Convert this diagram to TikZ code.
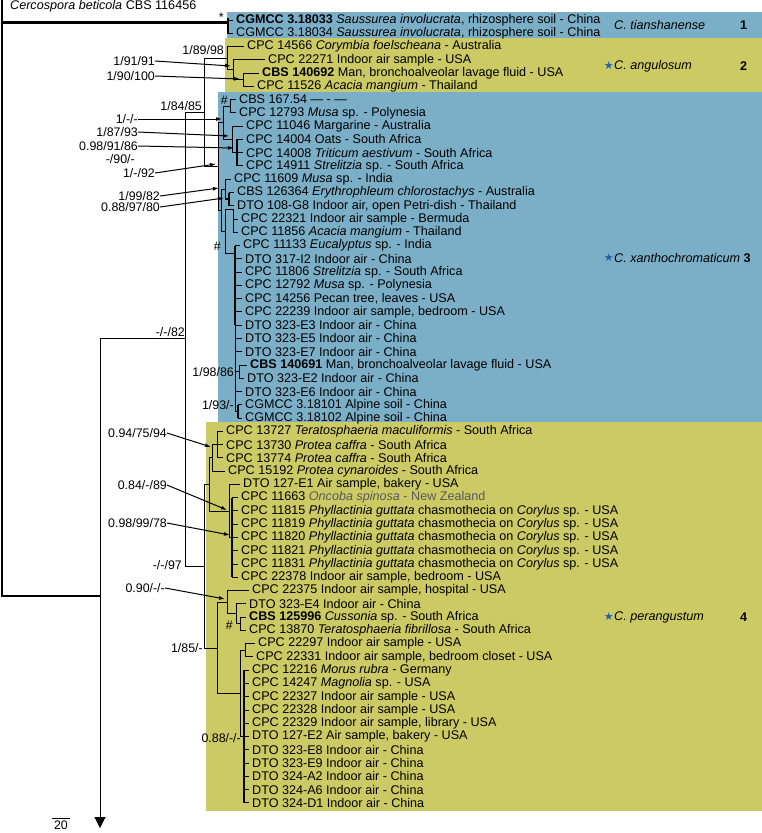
\documentclass[tikz,border=0pt]{standalone}
\usepackage{fontspec}
\setmainfont{Liberation Sans}
\newfontfamily\symfont{DejaVu Sans}
\usetikzlibrary{arrows.meta}
\definecolor{cladeblue}{HTML}{7BAFC7}
\definecolor{cladeyellow}{HTML}{CCCA64}
\definecolor{starblue}{HTML}{2A5CAA}
\newcommand{\phyl}{\textit{Phyllactinia guttata} chasmothecia on \textit{Corylus} sp. - USA}

\begin{document}
\begin{tikzpicture}[x=1pt, y=-1pt,
  taxon/.style={anchor=west, inner xsep=3pt, inner ysep=0pt, font=\fontsize{12.6}{14}\selectfont},
  support/.style={anchor=east, inner sep=0pt, font=\fontsize{12.4}{14}\selectfont},
  cladename/.style={anchor=west, inner sep=0pt, font=\fontsize{12.6}{14}\selectfont\itshape},
  cladenum/.style={anchor=west, inner sep=0pt, font=\fontsize{12.6}{14}\selectfont\bfseries},
  branch/.style={line width=1pt},
  pointer/.style={line width=1pt, -{Latex[length=6pt,width=4pt]}}]
  \useasboundingbox (0,0) rectangle (762,833);

  % ── Clade boxes ──
  \fill[cladeblue] (227,12) rectangle (762,38);
  \fill[cladeyellow] (225,38) rectangle (762,92);
  \fill[cladeblue] (218,92) rectangle (762,422);
  \fill[cladeyellow] (206,422) rectangle (762,811);

  % ── Taxa ──
  \node[taxon, inner xsep=0pt] (outg) at (10,6) {\textit{Cercospora beticola} CBS 116456};
  \foreach \r/\xx/\txt in {
    0/236/{\textbf{CGMCC 3.18033} \textit{Saussurea involucrata}, rhizosphere soil - China},
    1/236/{CGMCC 3.18034 \textit{Saussurea involucrata}, rhizosphere soil - China},
    2/247/{CPC 14566 \textit{Corymbia foelscheana} - Australia},
    3/268/{CPC 22271 Indoor air sample - USA},
    4/262/{\textbf{CBS 140692} Man, bronchoalveolar lavage fluid - USA},
    5/257/{CPC 11526 \textit{Acacia mangium} - Thailand},
    6/239/{CBS 167.54 — - —},
    7/239/{CPC 12793 \textit{Musa} sp. - Polynesia},
    8/246/{CPC 11046 Margarine - Australia},
    9/246/{CPC 14004 Oats - South Africa},
    10/246/{CPC 14008 \textit{Triticum aestivum} - South Africa},
    11/246/{CPC 14911 \textit{Strelitzia} sp. - South Africa},
    12/234/{CPC 11609 \textit{Musa} sp. - India},
    13/237/{CBS 126364 \textit{Erythrophleum chlorostachys} - Australia},
    14/237/{DTO 108-G8 Indoor air, open Petri-dish - Thailand},
    15/241/{CPC 22321 Indoor air sample - Bermuda},
    16/241/{CPC 11856 \textit{Acacia mangium} - Thailand},
    17/243/{CPC 11133 \textit{Eucalyptus} sp. - India},
    18/245/{DTO 317-I2 Indoor air - China},
    19/245/{CPC 11806 \textit{Strelitzia} sp. - South Africa},
    20/245/{CPC 12792 \textit{Musa} sp. - Polynesia},
    21/245/{CPC 14256 Pecan tree, leaves - USA},
    22/245/{CPC 22239 Indoor air sample, bedroom - USA},
    23/245/{DTO 323-E3 Indoor air - China},
    24/245/{DTO 323-E5 Indoor air - China},
    25/245/{DTO 323-E7 Indoor air - China},
    26/250/{\textbf{CBS 140691} Man, bronchoalveolar lavage fluid - USA},
    27/247/{DTO 323-E2 Indoor air - China},
    28/245/{DTO 323-E6 Indoor air - China},
    29/245/{CGMCC 3.18101 Alpine soil - China},
    30/245/{CGMCC 3.18102 Alpine soil - China},
    31/226/{CPC 13727 \textit{Teratosphaeria maculiformis} - South Africa},
    32/226/{CPC 13730 \textit{Protea caffra} - South Africa},
    33/226/{CPC 13774 \textit{Protea caffra} - South Africa},
    34/228/{CPC 15192 \textit{Protea cynaroides} - South Africa},
    35/243/{DTO 127-E1 Air sample, bakery - USA},
    36/241/{CPC 11663 {\color{black!65}\textit{Oncoba spinosa} - New Zealand}},
    37/241/{CPC 11815 \phyl},
    38/241/{CPC 11819 \phyl},
    39/241/{CPC 11820 \phyl},
    40/241/{CPC 11821 \phyl},
    41/241/{CPC 11831 \phyl},
    42/241/{CPC 22378 Indoor air sample, bedroom - USA},
    43/252/{CPC 22375 Indoor air sample, hospital - USA},
    44/249/{DTO 323-E4 Indoor air - China},
    45/249/{\textbf{CBS 125996} \textit{Cussonia} sp. - South Africa},
    46/249/{CPC 13870 \textit{Teratosphaeria fibrillosa} - South Africa},
    47/258/{CPC 22297 Indoor air sample - USA},
    48/256/{CPC 22331 Indoor air sample, bedroom closet - USA},
    49/252/{CPC 12216 \textit{Morus rubra} - Germany},
    50/252/{CPC 14247 \textit{Magnolia} sp. - USA},
    51/252/{CPC 22327 Indoor air sample - USA},
    52/252/{CPC 22328 Indoor air sample - USA},
    53/252/{CPC 22329 Indoor air sample, library - USA},
    54/252/{DTO 127-E2 Air sample, bakery - USA},
    55/252/{DTO 323-E8 Indoor air - China},
    56/252/{DTO 323-E9 Indoor air - China},
    57/252/{DTO 324-A2 Indoor air - China},
    58/252/{DTO 324-A6 Indoor air - China},
    59/252/{DTO 324-D1 Indoor air - China}}
    \node[taxon] (t\r) at (\xx-3, 20+13.27*\r) {\txt};

  % ── Clade names ──
  \node[cladename] (tian) at (614,25) {C. tianshanense};
  \node[cladename] (angu) at (614,66) {C. angulosum};
  \node[cladename] (xant) at (614,258) {C. xanthochromaticum};
  \node[cladename] (pera) at (614,617) {C. perangustum};
  \foreach \nm in {angu,xant,pera}
    \node[anchor=east, inner sep=0pt, text=starblue, font=\symfont\fontsize{11}{12}\selectfont] at (\nm.west) {★};
  \foreach \nm/\num in {tian/1,angu/2,pera/4}
    \node[cladenum] (n\num) at (740,0 |- \nm) {\num};
  \node[cladenum, xshift=3pt] (n3) at (xant.east) {3};

  % ── Root and backbone ──
  \draw[line width=1.5pt] (2,0) -- (2,596) -- (100,596);
  \draw[line width=3.5pt] (2,22.5) -- (228,22.5);
  \draw[line width=2pt] (228,18) -- (228,34);
  \draw[branch, -{Triangle[length=11pt,width=11pt]}] (100,338) -- (100,828);
  \draw[branch] (100,338) -- (185,338);
  \draw[branch] (185,112) -- (185,566);
  \draw[branch] (185,112) -- (204,112);
  \draw[branch] (204,58) -- (204,166.2);

  % ── C. angulosum ──
  \draw[branch] (204,58) -- (227,58);
  \draw[branch] (227,46.5) -- (227,69.8) (227,69.8) -- (233,69.8);
  \draw[branch] (233,59.8) -- (233,79.7) (233,79.7) -- (243,79.7);
  \draw[branch] (243,73.1) -- (243,86.4);

  % ── C. xanthochromaticum ──
  \draw[branch] (204,166.2) -- (218,166.2);
  \draw[branch] (218,122.9) -- (218,210.1);
  \draw[branch] (218,122.9) -- (223,122.9);
  \draw[branch] (223,106.3) -- (223,139.4);
  \draw[branch] (223,106.3) -- (230,106.3) (230,99.6) -- (230,112.9);
  \draw[branch] (223,139.4) -- (232,139.4) (232,126.2) -- (232,152.7);
  \draw[branch] (232,152.7) -- (237,152.7);
  \draw[line width=2pt] (237,139.4) -- (237,166);
  \draw[branch] (218,210.1) -- (221,210.1) (221,189.2) -- (221,231);
  \draw[branch] (221,189.2) -- (225,189.2) (225,179.2) -- (225,199.1);
  \draw[line width=2pt] (225,199.1) -- (229,199.1) (229,192.5) -- (229,205.8);
  \draw[branch] (221,231) -- (225,231) (225,209) -- (225,253);
  \draw[branch] (225,209) -- (233,209) (233,209) -- (233,232.3);
  \draw[branch] (225,253) -- (235,253);
  \draw[line width=2pt] (235,245.6) -- (235,325);
  \draw[branch] (235,325) -- (235,411.5);
  \draw[branch] (235,371.7) -- (239,371.7) (239,365) -- (239,378.3);
  \draw[branch] (235,411.5) -- (238,411.5);
  \draw[line width=2pt] (238,404.8) -- (238,418.1);

  % ── C. perangustum ──
  \draw[branch] (185,566) -- (204,566);
  \draw[branch] (204,484.5) -- (204,648);
  \draw[branch] (204,484.5) -- (209,484.5) (209,457.9) -- (209,511);
  \draw[branch] (209,457.9) -- (212,457.9) (212,444.6) -- (212,471.2);
  \draw[branch] (212,444.6) -- (217,444.6) (217,431.4) -- (217,457.9);
  \draw[branch] (209,511) -- (229,511) (229,484.5) -- (229,537.5);
  \draw[branch] (229,537.5) -- (232,537.5);
  \draw[line width=1.6pt] (232,497.7) -- (232,577.3);
  \draw[branch] (204,648) -- (217,648) (217,602.1) -- (217,693.4);
  \draw[branch] (217,602.1) -- (227,602.1) (227,590.6) -- (227,613.8);
  \draw[branch] (227,613.8) -- (236,613.8) (236,603.9) -- (236,623.8);
  \draw[branch] (236,623.8) -- (240,623.8) (240,617.2) -- (240,630.4);
  \draw[branch] (217,693.4) -- (240,693.4) (240,650.3) -- (240,736.6);
  \draw[branch] (240,650.3) -- (245,650.3) (245,643.7) -- (245,657);
  \draw[branch] (240,736.6) -- (244,736.6);
  \draw[line width=2pt] (244,670.2) -- (244,802.9);

  % Tips to taxa
  \foreach \k/\bx in {0/228,1/228,2/227,3/233,4/243,5/243,6/230,7/230,8/232,
      9/237,10/237,11/237,12/225,13/229,14/229,15/233,16/233,17/235,18/235,
      19/235,20/235,21/235,22/235,23/235,24/235,25/235,26/239,27/239,28/235,
      29/238,30/238,31/217,32/217,33/217,34/212,35/229,36/232,37/232,38/232,
      39/232,40/232,41/232,42/232,43/227,44/236,45/240,46/240,47/245,48/245,
      49/244,50/244,51/244,52/244,53/244,54/244,55/244,56/244,57/244,58/244,59/244}
    \draw[branch] (\bx, 20+13.27*\k) -- (t\k.west);

  % ── Support values ──
  \node[support] (s1) at (155,61) {1/91/91};
  \node[support] (s2) at (155,76) {1/90/100};
  \node[support] (s3) at (224,50) {1/89/98};
  \node[support] (s4) at (202,106) {1/84/85};
  \node[support] (s5) at (138,119) {1/-/-};
  \node[support] (s6) at (138,132) {1/87/93};
  \node[support] (s7) at (138,146) {0.98/91/86};
  \node[support] (s8) at (135,159) {-/90/-};
  \node[support] (s9) at (155,173) {1/-/92};
  \node[support] (s10) at (160,196) {1/99/82};
  \node[support] (s11) at (160,207) {0.88/97/80};
  \node[support] (s12) at (185,332) {-/-/82};
  \node[support] (s13) at (234,372) {1/98/86};
  \node[support] (s14) at (234,405) {1/93/-};
  \node[support] (s15) at (167,433) {0.94/75/94};
  \node[support] (s16) at (167,485) {0.84/-/89};
  \node[support] (s17) at (167,523) {0.98/99/78};
  \node[support] (s18) at (182,565) {-/-/97};
  \node[support] (s19) at (165,588) {0.90/-/-};
  \node[support] (s20) at (203,648) {1/85/-};
  \node[support] (s21) at (241,738) {0.88/-/-};
  \draw[pointer] (s1.east) -- (231,66);
  \draw[pointer] (s2.east) -- (240,79);
  \draw[pointer] (s5.east) -- (222,119);
  \draw[pointer] (s6.east) -- (229,136);
  \draw[pointer] (s7.east) -- (234,148);
  \draw[pointer] (s9.east) -- (216,164);
  \draw[pointer] (s10.east) -- (219,188);
  \draw[pointer] (s11.east) -- (224,198);
  \draw[pointer] (s15.east) -- (211,447);
  \draw[pointer] (s16.east) -- (227,510);
  \draw[pointer] (s17.east) -- (230,535);
  \draw[pointer] (s19.east) -- (225,599);

  % Marks
  \node[support] (star1) at (224,17) {*};
  \node[support] (hash1) at (228,100) {\#};
  \node[support] (hash2) at (221,246) {\#};
  \node[support] (hash3) at (233,625) {\#};

  % ── Scale bar ──
  \draw[branch] (52,818) -- (70,818);
  \node[inner sep=0pt, font=\fontsize{12.4}{14}\selectfont] (scale) at (61,825.5) {20};
\end{tikzpicture}
\end{document}
